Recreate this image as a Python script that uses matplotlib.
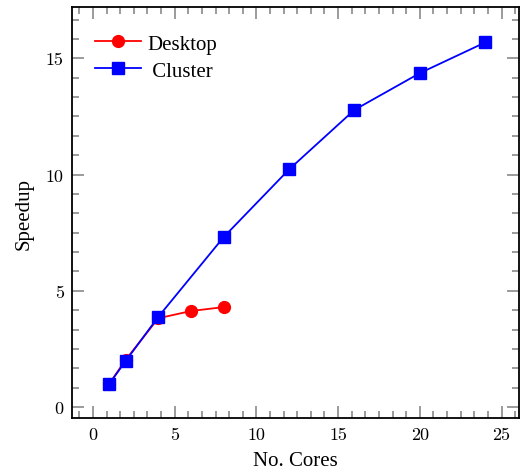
import matplotlib
matplotlib.use("Agg")
import matplotlib.pyplot as plt
from matplotlib.ticker import MultipleLocator

# data
desktop_cores = [1, 2, 4, 6, 8]
desktop_speedup = [1.0, 2.03, 3.82, 4.13, 4.3]
cluster_cores = [1, 2, 4, 8, 12, 16, 20, 24]
cluster_speedup = [1.0, 1.98, 3.88, 7.31, 10.22, 12.78, 14.36, 15.68]

plt.rcParams['font.family'] = ['Liberation Serif', 'DejaVu Serif']

fig = plt.figure(figsize=(5.2, 4.77), dpi=100)
ax = fig.add_axes([0.1385, 0.1216, 0.8605, 0.8614])

ax.plot(desktop_cores, desktop_speedup, color='red', marker='o',
        markersize=8.5, linewidth=1.3, label='Desktop')
ax.plot(cluster_cores, cluster_speedup, color='blue', marker='s',
        markersize=8.5, linewidth=1.3, label=' Cluster')

ax.set_xlim(-1.28, 26.1)
ax.set_ylim(-0.47, 17.2)

ax.xaxis.set_major_locator(MultipleLocator(5))
ax.xaxis.set_minor_locator(MultipleLocator(5 / 6))
ax.yaxis.set_major_locator(MultipleLocator(5))
ax.yaxis.set_minor_locator(MultipleLocator(5 / 6))

ax.tick_params(which='both', direction='in', top=True, right=True,
               color='#808080', width=1.1)
ax.tick_params(which='major', length=8.5)
ax.tick_params(which='minor', length=5)
ax.tick_params(labelsize=13, labelfontfamily='cmr10', pad=6)

for s in ax.spines.values():
    s.set_linewidth(1.3)

ax.set_xlabel('No. Cores', fontsize=15, labelpad=7)
ax.set_ylabel('Speedup', fontsize=15, labelpad=9)

ax.legend(loc='upper left', bbox_to_anchor=(0, 0.99), frameon=False,
          fontsize=15, handlelength=2.2, handletextpad=0.3,
          labelspacing=0.35, borderaxespad=0.7)

fig.savefig('out.png', dpi=100)
